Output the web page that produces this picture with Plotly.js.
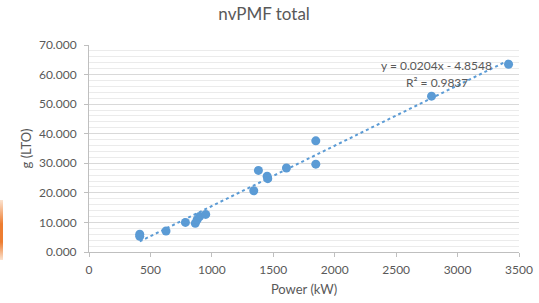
<!DOCTYPE html>
<html>
<head>
<meta charset="utf-8">
<script src="https://cdn.plot.ly/plotly-3.0.1.min.js"></script>
<style>
html,body{margin:0;padding:0;background:#fff;}
#chart{width:539px;height:303px;position:relative;}
#deco{position:absolute;left:0;top:200px;width:3px;height:60px;background:linear-gradient(#fbe3d0,#ed7d31 40%,#ed7d31 70%,#fbe3d0);z-index:5;}
</style>
</head>
<body>
<div id="chart"></div>
<div id="deco"></div>
<script>
// Data
const powerKW = [413, 413, 627, 785, 865, 880, 900, 950, 1341, 1379, 1450, 1455, 1607, 1846, 1846, 2788, 3415];
const gLTO    = [6.0, 5.3, 7.1, 10.0, 9.7, 10.9, 12.0, 12.7, 20.7, 27.6, 25.6, 24.8, 28.4, 29.7, 37.6, 52.7, 63.5];
const trendSlope = 0.0204;
const trendIntercept = -4.8548;
const trendR2 = 0.9837;
const titleText = "nvPMF total";
const xTitle = "Power (kW)";
const yTitle = "g (LTO)";

const xMin = Math.min(...powerKW), xMax = Math.max(...powerKW);
const trendX = [xMin, xMax];
const trendY = trendX.map(x => trendSlope * x + trendIntercept);

const gray = '#595959';
const font = 'Lato, "Open Sans", sans-serif';
const blue = '#5b9bd5';

const data = [
  {x: trendX, y: trendY, type: 'scatter', mode: 'lines',
   line: {color: blue, width: 2, dash: 'dot'}, hoverinfo: 'skip'},
  {x: powerKW, y: gLTO, type: 'scatter', mode: 'markers',
   marker: {color: blue, size: 9}}
];

const layout = {
  width: 539, height: 303,
  margin: {l: 89, r: 20, t: 45, b: 51},
  paper_bgcolor: '#fff', plot_bgcolor: '#fff',
  showlegend: false,
  font: {family: font, color: gray, size: 12},
  title: {text: titleText, font: {family: font, size: 17, color: gray},
          xref: 'container', x: 0.49, xanchor: 'center',
          yref: 'container', y: 1 - 14/303, yanchor: 'middle'},
  xaxis: {
    range: [0, 3500], dtick: 500, tick0: 0,
    showgrid: false, zeroline: false,
    showline: true, linecolor: '#bfbfbf', linewidth: 1,
    ticks: 'outside', ticklen: 4, tickcolor: '#bfbfbf',
    ticklabelstandoff: 3,
    tickfont: {family: font, size: 12, color: gray},
    title: {text: xTitle, font: {family: font, size: 13, color: gray}, standoff: 8}
  },
  yaxis: {
    range: [0, 70], dtick: 10, tick0: 0, tickformat: '.3f',
    showgrid: true, gridcolor: '#d9d9d9', gridwidth: 1,
    minor: {dtick: 2, showgrid: true, gridcolor: '#ebebeb', gridwidth: 1},
    zeroline: false,
    showline: true, linecolor: '#bfbfbf', linewidth: 1,
    ticks: 'outside', ticklen: 4, tickcolor: '#bfbfbf',
    ticklabelstandoff: 5,
    tickfont: {family: font, size: 12, color: gray},
    title: {text: yTitle, font: {family: font, size: 13, color: gray}, standoff: 4}
  },
  annotations: [
    {x: 2831, y: 63.2, xref: 'x', yref: 'y', showarrow: false,
     text: 'y = ' + trendSlope.toFixed(4) + 'x - ' + Math.abs(trendIntercept).toFixed(4),
     font: {family: font, size: 12, color: gray}},
    {x: 2831, y: 57.2, xref: 'x', yref: 'y', showarrow: false,
     text: 'R² = ' + trendR2.toFixed(4),
     font: {family: font, size: 12, color: gray}}
  ]
};

Plotly.newPlot('chart', data, layout, {displayModeBar: false, staticPlot: true});
</script>
</body>
</html>
